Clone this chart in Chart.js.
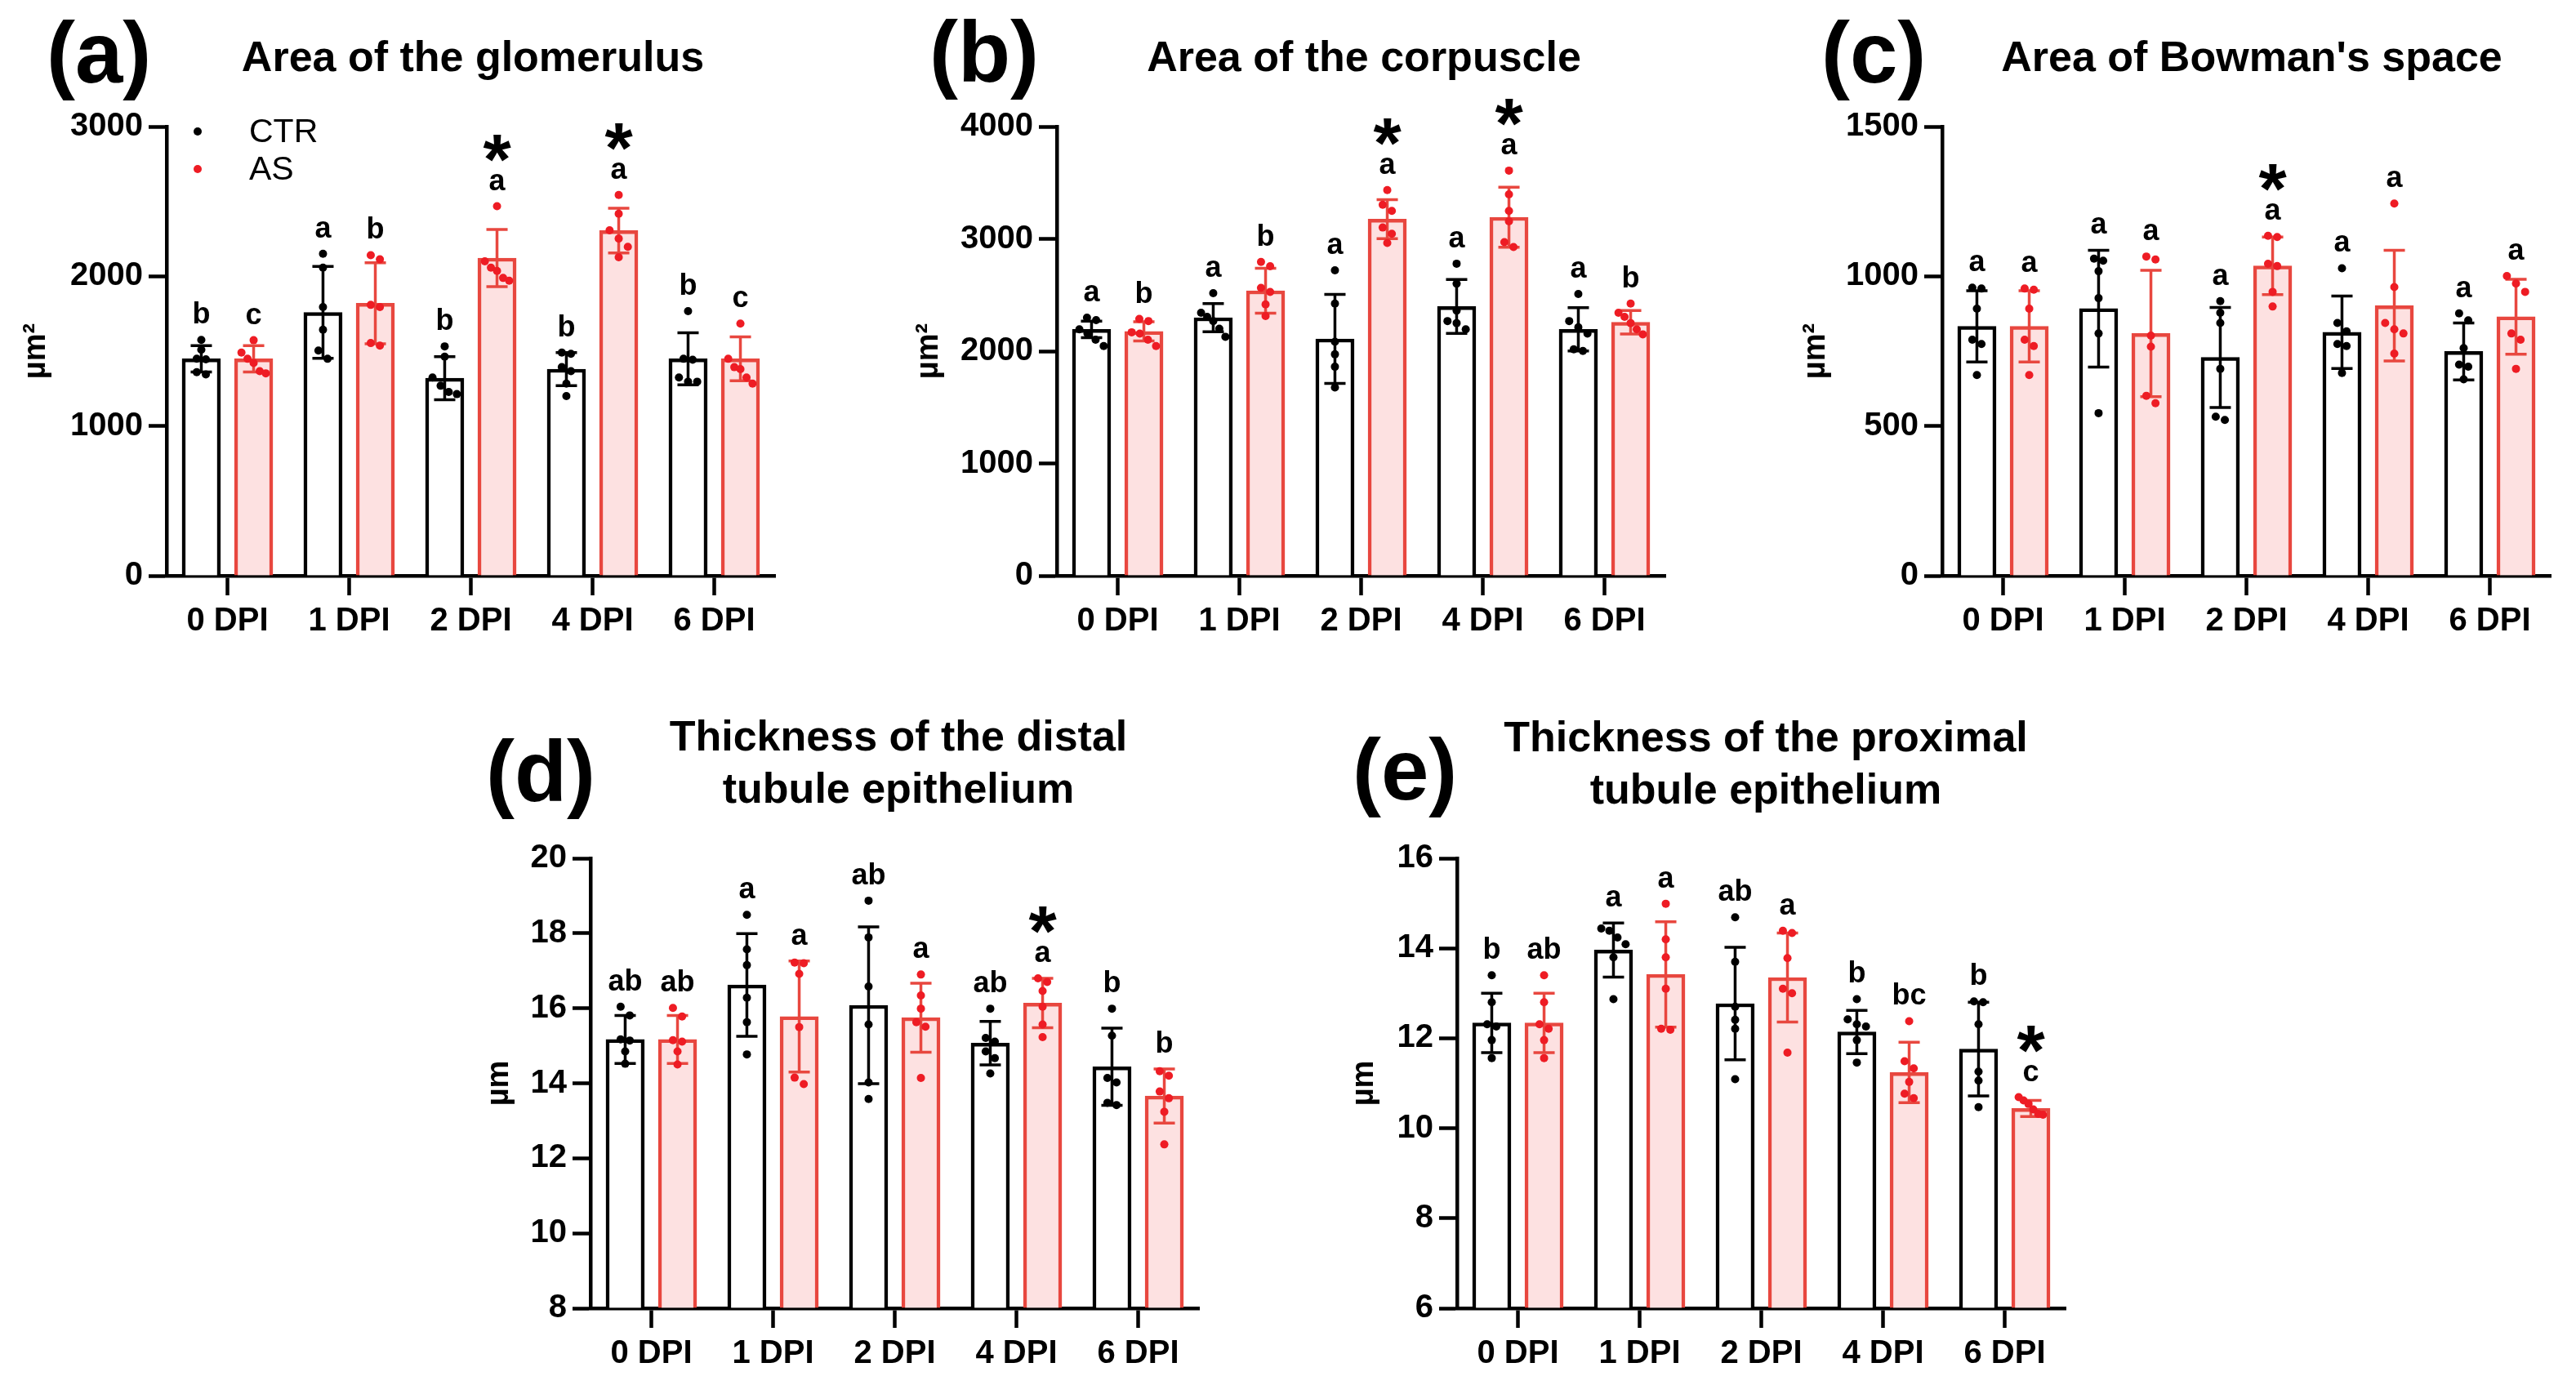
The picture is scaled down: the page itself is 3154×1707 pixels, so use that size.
<!DOCTYPE html>
<html><head><meta charset="utf-8">
<script src="https://cdn.jsdelivr.net/npm/chart.js@4.4.1/dist/chart.umd.min.js"></script>
<style>
html,body{margin:0;padding:0;background:#fff;}
body{width:3154px;height:1707px;position:relative;overflow:hidden;font-family:'Liberation Sans',Arial,Helvetica,sans-serif;color:#000;}
.lab{position:absolute;font-weight:bold;font-size:105px;line-height:1;white-space:nowrap;}
.ttl{position:absolute;font-weight:bold;font-size:52px;line-height:64px;text-align:center;white-space:nowrap;transform:translateX(-50%);}
canvas{position:absolute;}
</style></head><body>
<div class="lab" style="left:57px;top:12px">(a)</div>
<div class="lab" style="left:1138px;top:11px">(b)</div>
<div class="lab" style="left:2230px;top:12px">(c)</div>
<div class="lab" style="left:595px;top:892px">(d)</div>
<div class="lab" style="left:1656px;top:890px">(e)</div>
<div class="ttl" style="left:579px;top:37px">Area of the glomerulus</div>
<div class="ttl" style="left:1670px;top:37px">Area of the corpuscle</div>
<div class="ttl" style="left:2757px;top:37px">Area of Bowman's space</div>
<div class="ttl" style="left:1100px;top:869px">Thickness of the distal<br>tubule epithelium</div>
<div class="ttl" style="left:2162px;top:870px">Thickness of the proximal<br>tubule epithelium</div>
<script>
// ---------------- DATA ----------------
const categories = ['0 DPI', '1 DPI', '2 DPI', '4 DPI', '6 DPI'];
const seriesNames = ['CTR', 'AS'];

// (a) Area of the glomerulus (µm²)
const glomTicks = [0, 1000, 2000, 3000];
const glomMeanCTR = [1449, 1759, 1319, 1380, 1449];
const glomSdCTR = [88, 307, 144, 110, 174];
const glomMeanAS = [1449, 1820, 2122, 2305, 1449];
const glomSdAS = [88, 271, 191, 149, 147];
const glomPtsCTR = [[1575,1510,1445,1450,1360,1345],[2150,2058,1795,1643,1504,1449],[1532,1463,1324,1269,1227,1213],[1490,1482,1393,1366,1283,1200],[1767,1449,1443,1324,1296,1296]];
const glomPtsAS = [[1573,1490,1449,1421,1366,1352],[2141,2114,1809,1795,1554,1537],[2468,2100,2058,2036,1989,1970],[2543,2418,2307,2252,2197,2127],[1684,1449,1393,1380,1324,1283]];
const glomLetCTR = ['b', 'a', 'b', 'b', 'b'];
const glomLetAS = ['c', 'b', 'a', 'a', 'c'];
const glomStarAS = [false, false, true, true, false];

// (b) Area of the corpuscle (µm²)
const corpTicks = [0, 1000, 2000, 3000, 4000];
const corpMeanCTR = [2194, 2298, 2109, 2398, 2194];
const corpSdCTR = [74, 126, 396, 240, 193];
const corpMeanAS = [2176, 2538, 3175, 3193, 2257];
const corpSdAS = [85, 200, 174, 267, 104];
const corpPtsCTR = [[2298,2276,2194,2157,2102,2046],[2516,2342,2305,2268,2200,2128],[2720,2424,2083,1972,1861,1676],[2779,2601,2361,2268,2250,2194],[2509,2268,2213,2157,2017,2002]];
const corpPtsAS = [[2287,2268,2168,2157,2102,2046],[2794,2757,2564,2527,2416,2313],[3434,3304,3249,3101,3045,2964],[3608,3397,3249,3157,2971,2927],[2424,2342,2305,2250,2194,2150]];
const corpLetCTR = ['a', 'a', 'a', 'a', 'a'];
const corpLetAS = ['b', 'b', 'a', 'a', 'b'];
const corpStarAS = [false, false, true, true, false];

// (c) Area of Bowman's space (µm²)
const bowTicks = [0, 500, 1000, 1500];
const bowMeanCTR = [833, 892, 729, 813, 749];
const bowSdCTR = [119, 195, 167, 121, 95];
const bowMeanAS = [833, 809, 1035, 902, 865];
const bowSdAS = [119, 211, 96, 185, 125];
const bowPtsCTR = [[962,959,892,788,774,670],[1059,1052,1017,927,809,543],[917,878,844,691,531,520],[1027,844,816,774,767,677],[876,853,760,705,698,656]];
const bowPtsAS = [[959,955,892,788,767,670],[1066,1056,802,765,601,576],[1135,1131,1042,1034,948,899],[1243,964,844,823,809,742],[1001,976,948,809,788,691]];
const bowLetCTR = ['a', 'a', 'a', 'a', 'a'];
const bowLetAS = ['a', 'a', 'a', 'a', 'a'];
const bowStarAS = [false, false, true, false, false];

// (d) Thickness of the distal tubule epithelium (µm)
const distTicks = [8, 10, 12, 14, 16, 18, 20];
const distMeanCTR = [15.17, 16.62, 16.08, 15.07, 14.44];
const distSdCTR = [0.64, 1.37, 2.09, 0.58, 1.03];
const distMeanAS = [15.17, 15.78, 15.75, 16.14, 13.66];
const distSdAS = [0.64, 1.48, 0.92, 0.66, 0.72];
const distPtsCTR = [[16.04,15.81,15.17,15.14,14.85,14.52],[18.49,17.57,17.15,16.28,15.63,14.77],[18.87,17.89,16.58,15.57,14.02,13.58],[15.99,15.21,15.11,14.85,14.67,14.26],[15.99,15.27,14.14,14.02,13.48,13.42]];
const distPtsAS = [[16.01,15.78,15.15,15.11,14.85,14.50],[17.22,17.20,16.92,15.50,14.15,13.98],[16.90,16.34,15.99,15.63,15.51,14.14],[16.80,16.70,16.46,16.04,15.57,15.23],[14.32,14.20,13.78,13.60,13.24,12.37]];
const distLetCTR = ['ab', 'a', 'ab', 'ab', 'b'];
const distLetAS = ['ab', 'a', 'a', 'a', 'b'];
const distStarAS = [false, false, false, true, false];

// (e) Thickness of the proximal tubule epithelium (µm)
const proxTicks = [6, 8, 10, 12, 14, 16];
const proxMeanCTR = [12.34, 13.96, 12.77, 12.14, 11.76];
const proxSdCTR = [0.66, 0.60, 1.25, 0.48, 1.04];
const proxMeanAS = [12.34, 13.42, 13.35, 11.24, 10.44];
const proxSdAS = [0.66, 1.17, 0.99, 0.67, 0.18];
const proxPtsCTR = [[13.40,12.80,12.31,12.26,11.96,11.56],[14.44,14.39,14.24,14.09,13.80,12.87],[14.69,13.70,12.70,12.41,12.21,11.09],[12.87,12.42,12.31,12.26,11.96,11.46],[12.82,12.80,12.31,11.26,11.06,10.47]];
const proxPtsAS = [[13.40,12.80,12.31,12.21,11.96,11.56],[14.99,14.20,13.80,13.10,12.21,12.19],[14.39,14.34,13.78,13.10,13.00,11.68],[12.38,11.49,11.33,11.03,10.77,10.67],[10.69,10.62,10.54,10.42,10.32,10.30]];
const proxLetCTR = ['b', 'a', 'ab', 'b', 'b'];
const proxLetAS = ['ab', 'a', 'a', 'bc', 'c'];
const proxStarAS = [false, false, false, false, true];

const noStar = [false, false, false, false, false];

// ---------------- STYLE ----------------
const FONT = "'Liberation Sans', Arial, Helvetica, sans-serif";
const BAR_OFFSET = 0.215;   // bar centre offset from category centre (category units)
const BAR_WIDTH = 47;       // px
const BLACK = '#000000', RED_LINE = '#e8473f', RED_FILL = '#fde1e1', RED_DOT = '#ee1c24';
const AXW = 4.5;

function spread(vals, thr) {
  const idx = vals.map((v, i) => i).sort((a, b) => vals[b] - vals[a]);
  const off = new Array(vals.length).fill(0);
  let g = [idx[0]];
  const flush = () => {
    const n = g.length;
    const sp = n > 1 ? Math.min(0.075, 0.2 / (n - 1)) : 0;
    g.forEach((k, j) => { off[k] = (j - (n - 1) / 2) * sp; });
  };
  for (let j = 1; j < idx.length; j++) {
    if (vals[g[g.length - 1]] - vals[idx[j]] < thr) g.push(idx[j]);
    else { flush(); g = [idx[j]]; }
  }
  flush();
  return off;
}

function scatterData(pts, side, thr) {
  const out = [];
  pts.forEach((arr, ci) => {
    const off = spread(arr, thr);
    arr.forEach((v, k) => out.push({ x: ci + side * BAR_OFFSET + off[k], y: v }));
  });
  return out;
}

function barData(means, side) {
  return means.map((m, i) => ({ x: i + side * BAR_OFFSET, y: m }));
}

const errorBars = {
  id: 'errorBars',
  afterDatasetDraw(chart, args) {
    const ds = chart.data.datasets[args.index];
    if (!ds.sd) return;
    const y = chart.scales.y, ctx = chart.ctx, cap = 26;
    ctx.save();
    ctx.strokeStyle = ds.errColor;
    ctx.lineWidth = 3.5;
    args.meta.data.forEach((bar, i) => {
      const m = ds.data[i].y, s = ds.sd[i];
      const yt = y.getPixelForValue(m + s), yb = y.getPixelForValue(m - s);
      ctx.beginPath();
      ctx.moveTo(bar.x, yt); ctx.lineTo(bar.x, yb);
      ctx.moveTo(bar.x - cap / 2, yt); ctx.lineTo(bar.x + cap / 2, yt);
      ctx.moveTo(bar.x - cap / 2, yb); ctx.lineTo(bar.x + cap / 2, yb);
      ctx.stroke();
    });
    ctx.restore();
  }
};

const annotations = {
  id: 'annotations',
  afterDraw(chart) {
    const y = chart.scales.y, ctx = chart.ctx;
    ctx.save();
    ctx.fillStyle = BLACK;
    ctx.textAlign = 'center';
    ctx.textBaseline = 'alphabetic';
    chart.data.datasets.forEach((ds, di) => {
      if (!ds.sd) return;
      const meta = chart.getDatasetMeta(di);
      meta.data.forEach((bar, i) => {
        const top = Math.max(ds.data[i].y + ds.sd[i], Math.max(...ds.pts[i]));
        const base = y.getPixelForValue(top) - 20;
        ctx.font = 'bold 36px ' + FONT;
        ctx.fillText(ds.letters[i], bar.x, base);
        if (ds.stars[i]) {
          ctx.font = 'bold 88px ' + FONT;
          ctx.fillText('*', bar.x, base - 8);
        }
      });
    });
    if (chart.options.plugins.annotations && chart.options.plugins.annotations.legend) {
      const a = chart.chartArea;
      const items = chart.data.datasets.filter(d => d.type === 'scatter');
      ctx.textAlign = 'left';
      ctx.textBaseline = 'middle';
      ctx.font = '41px ' + FONT;
      items.forEach((d, k) => {
        const yy = a.top + 6 + k * 46;
        ctx.fillStyle = d.pointBackgroundColor;
        ctx.beginPath(); ctx.arc(a.left + 38, yy, 5, 0, Math.PI * 2); ctx.fill();
        ctx.fillStyle = BLACK;
        ctx.fillText(d.label, a.left + 101, yy + 2);
      });
    }
    ctx.restore();
  }
};

function makePanel(o) {
  const box = { l: o.yTitleX - 27, t: o.plot.t - 40 };
  box.w = o.plot.r + 30 - box.l;
  box.h = o.plot.b + 110 - box.t;
  const cv = document.createElement('canvas');
  cv.width = box.w; cv.height = box.h;
  cv.style.left = box.l + 'px'; cv.style.top = box.t + 'px';
  cv.style.width = box.w + 'px'; cv.style.height = box.h + 'px';
  document.body.appendChild(cv);
  const yMin = o.ticks[0], yMax = o.ticks[o.ticks.length - 1];
  const thr = 11 * (yMax - yMin) / (o.plot.b - o.plot.t);
  const barCommon = { type: 'bar', xAxisID: 'xs', yAxisID: 'y', order: 2, grouped: false,
                      barThickness: BAR_WIDTH, base: yMin, borderWidth: 4.5, borderSkipped: 'start' };
  new Chart(cv.getContext('2d'), {
    type: 'bar',
    data: {
      labels: categories,
      datasets: [
        { type: 'scatter', label: seriesNames[0], xAxisID: 'xs', yAxisID: 'y', order: 1,
          data: scatterData(o.ptsCTR, -1, thr), pointRadius: 5, pointBackgroundColor: BLACK, pointBorderWidth: 0, borderWidth: 0 },
        { type: 'scatter', label: seriesNames[1], xAxisID: 'xs', yAxisID: 'y', order: 1,
          data: scatterData(o.ptsAS, 1, thr), pointRadius: 5, pointBackgroundColor: RED_DOT, pointBorderWidth: 0, borderWidth: 0 },
        Object.assign({}, barCommon, { label: seriesNames[0], data: barData(o.meanCTR, -1), sd: o.sdCTR,
          pts: o.ptsCTR, letters: o.letCTR, stars: o.starCTR, errColor: BLACK,
          backgroundColor: '#ffffff', borderColor: BLACK }),
        Object.assign({}, barCommon, { label: seriesNames[1], data: barData(o.meanAS, 1), sd: o.sdAS,
          pts: o.ptsAS, letters: o.letAS, stars: o.starAS, errColor: RED_LINE,
          backgroundColor: RED_FILL, borderColor: RED_LINE })
      ]
    },
    options: {
      responsive: false, animation: false, devicePixelRatio: 1, events: [],
      layout: { padding: { left: 0, top: o.plot.t - box.t, right: box.l + box.w - o.plot.r, bottom: 0 } },
      plugins: { legend: { display: false }, tooltip: { enabled: false }, title: { display: false },
                 annotations: { legend: !!o.legend } },
      scales: {
        x: {
          type: 'category', position: 'bottom', offset: true,
          grid: { offset: false, drawOnChartArea: false, drawTicks: true, tickLength: 24, tickWidth: AXW, tickColor: BLACK },
          border: { display: true, width: AXW, color: BLACK },
          ticks: { color: BLACK, font: { family: FONT, size: 40, weight: 'bold' }, padding: 8, maxRotation: 0, autoSkip: false },
          afterFit: s => { s.height = box.t + box.h - o.plot.b; }
        },
        xs: { type: 'linear', display: false, min: -0.5, max: 4.5, offset: false },
        y: {
          type: 'linear', position: 'left', min: yMin, max: yMax,
          afterBuildTicks: s => { s.ticks = o.ticks.map(v => ({ value: v })); },
          grid: { drawOnChartArea: false, drawTicks: true, tickLength: 22, tickWidth: AXW, tickColor: BLACK },
          border: { display: true, width: AXW, color: BLACK },
          ticks: { color: BLACK, font: { family: FONT, size: 40, weight: 'bold' }, padding: 7, callback: v => String(v) },
          title: { display: true, text: o.unit, color: BLACK, font: { family: FONT, size: 38, weight: 'bold' }, padding: { top: 4, bottom: 0 } },
          afterFit: s => { s.width = o.plot.l - box.l; }
        }
      }
    },
    plugins: [errorBars, annotations]
  });
}

makePanel({ plot: { l: 204, r: 949, t: 155, b: 705 }, yTitleX: 45, ticks: glomTicks, unit: 'µm²', legend: true,
  meanCTR: glomMeanCTR, sdCTR: glomSdCTR, ptsCTR: glomPtsCTR, letCTR: glomLetCTR, starCTR: noStar,
  meanAS: glomMeanAS, sdAS: glomSdAS, ptsAS: glomPtsAS, letAS: glomLetAS, starAS: glomStarAS });
makePanel({ plot: { l: 1294, r: 2039, t: 155, b: 705 }, yTitleX: 1138, ticks: corpTicks, unit: 'µm²',
  meanCTR: corpMeanCTR, sdCTR: corpSdCTR, ptsCTR: corpPtsCTR, letCTR: corpLetCTR, starCTR: noStar,
  meanAS: corpMeanAS, sdAS: corpSdAS, ptsAS: corpPtsAS, letAS: corpLetAS, starAS: corpStarAS });
makePanel({ plot: { l: 2378, r: 3123, t: 155, b: 705 }, yTitleX: 2224, ticks: bowTicks, unit: 'µm²',
  meanCTR: bowMeanCTR, sdCTR: bowSdCTR, ptsCTR: bowPtsCTR, letCTR: bowLetCTR, starCTR: noStar,
  meanAS: bowMeanAS, sdAS: bowSdAS, ptsAS: bowPtsAS, letAS: bowLetAS, starAS: bowStarAS });
makePanel({ plot: { l: 723, r: 1468, t: 1051, b: 1602 }, yTitleX: 612, ticks: distTicks, unit: 'µm',
  meanCTR: distMeanCTR, sdCTR: distSdCTR, ptsCTR: distPtsCTR, letCTR: distLetCTR, starCTR: noStar,
  meanAS: distMeanAS, sdAS: distSdAS, ptsAS: distPtsAS, letAS: distLetAS, starAS: distStarAS });
makePanel({ plot: { l: 1784, r: 2529, t: 1051, b: 1602 }, yTitleX: 1671, ticks: proxTicks, unit: 'µm',
  meanCTR: proxMeanCTR, sdCTR: proxSdCTR, ptsCTR: proxPtsCTR, letCTR: proxLetCTR, starCTR: noStar,
  meanAS: proxMeanAS, sdAS: proxSdAS, ptsAS: proxPtsAS, letAS: proxLetAS, starAS: proxStarAS });
</script>
</body></html>
